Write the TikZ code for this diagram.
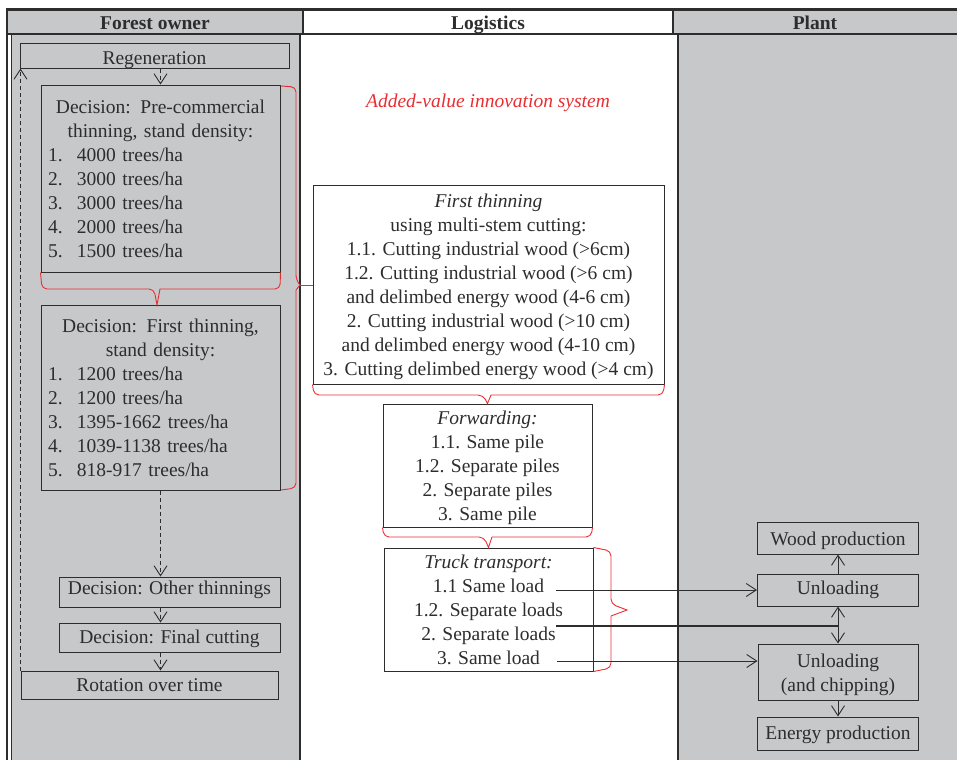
\documentclass[tikz,border=0pt]{standalone}
\usepackage{fontspec}
\setmainfont{Liberation Serif}
\usetikzlibrary{arrows.meta}
\definecolor{panel}{RGB}{199,200,202}
\definecolor{bred}{RGB}{232,45,50}
\definecolor{ink}{RGB}{45,45,45}
\tikzset{
  box/.style={draw=ink, line width=1pt, fill=panel, inner sep=0pt, align=center, text=ink, font=\fontsize{19.5}{24}\selectfont},
  wbox/.style={box, fill=white},
  tl/.style={text height=#1, text depth=4pt},
  flow/.style={->, draw=ink, line width=0.9pt},
  dflow/.style={flow, dash pattern=on 4pt off 3pt},
  brk/.style={draw=bred, line width=0.9pt, rounded corners=5pt},
  hdr/.style={inner sep=0pt, text=ink, text height=19pt, text depth=4pt, font=\fontsize{19.5}{24}\selectfont\bfseries},
  >={Straight Barb[length=10pt,width=13pt]}
}
\begin{document}
\begin{tikzpicture}[x=1pt,y=-1pt]
\useasboundingbox (0,0) rectangle (957,760);
% columns
\fill[panel] (11,34) rectangle (300,760);
\fill[panel] (678,34) rectangle (957,760);
\node[hdr, fill=panel, minimum width=296pt, minimum height=24pt] (fo) at (155,22) {Forest owner};
\node[hdr, minimum width=370pt, minimum height=24pt] (lg) at (488,22) {Logistics};
\node[hdr, fill=panel, minimum width=284pt, minimum height=24pt] (pl) at (815,22) {Plant};
\draw[ink, line width=3pt] (5.5,10) -- (957,10);
\draw[ink, line width=1.5pt] (7,34) -- (957,34);
\draw[ink, line width=2.5pt] (7,10) -- (7,760);
\draw[ink, line width=1pt] (11,34) -- (11,760);
\draw[ink, line width=2pt] (300,34) -- (300,760);
\draw[ink, line width=1.2pt] (303,10) -- (303,34);
\draw[ink, line width=1.2pt] (673,10) -- (673,34);
\draw[ink, line width=2pt] (678,34) -- (678,760);

% forest owner
\node[box, tl=20pt, minimum width=269pt, minimum height=24pt] (regen) at (154.5,56) {Regeneration};
\node[box, align=left, text width=225pt, inner xsep=7pt, minimum height=187pt] (pc) at (160.5,178.5)
  {\makebox[225pt][c]{Decision: Pre-commercial}\\ \makebox[225pt][c]{thinning, stand density:}\\
   \makebox[29pt][l]{1.}4000 trees/ha\\ \makebox[29pt][l]{2.}3000 trees/ha\\ \makebox[29pt][l]{3.}3000 trees/ha\\
   \makebox[29pt][l]{4.}2000 trees/ha\\ \makebox[29pt][l]{5.}1500 trees/ha};
\node[box, align=left, text width=225pt, inner xsep=7pt, minimum height=185pt] (ft) at (160.5,398)
  {\makebox[225pt][c]{Decision: First thinning,}\\ \makebox[225pt][c]{stand density:}\\
   \makebox[29pt][l]{1.}1200 trees/ha\\ \makebox[29pt][l]{2.}1200 trees/ha\\ \makebox[29pt][l]{3.}1395-1662 trees/ha\\
   \makebox[29pt][l]{4.}1039-1138 trees/ha\\ \makebox[29pt][l]{5.}818-917 trees/ha};
\node[box, tl=9pt, minimum width=221pt, minimum height=30pt] (oth) at (169.5,592) {Decision: Other thinnings};
\node[box, tl=15pt, minimum width=221pt, minimum height=29pt] (fc) at (169.5,637.5) {Decision: Final cutting};
\node[box, tl=16pt, minimum width=257pt, minimum height=28pt] (rot) at (149.5,685) {Rotation over time};

\draw[dflow] (regen.south -| ft.south) -- (pc.north -| ft.south);
\draw[dflow] (ft.south) -- (ft.south |- oth.north);
\draw[dflow] (oth.south -| ft.south) -- (fc.north -| ft.south);
\draw[dflow] (fc.south -| ft.south) -- (rot.north -| ft.south);
\draw[dflow] (rot.north west) -- (rot.north west |- regen.south);

% logistics
\node[text=bred, font=\fontsize{19.5}{24}\selectfont\itshape] (avis) at (488,102.5) {Added-value innovation system};
\node[wbox, minimum width=351pt, minimum height=199pt, text depth=0pt] (fth) at (488.5,284.5)
  {\textit{First thinning}\\ using multi-stem cutting:\\ 1.1. Cutting industrial wood (>6cm)\\
   1.2. Cutting industrial wood (>6 cm)\\ and delimbed energy wood (4-6 cm)\\
   2. Cutting industrial wood (>10 cm)\\ and delimbed energy wood (4-10 cm)\\
   3. Cutting delimbed energy wood (>4 cm)};
\node[wbox, minimum width=209pt, minimum height=123pt, text depth=0pt] (fw) at (487.5,465.5)
  {\textit{Forwarding:}\\ 1.1. Same pile\\ 1.2. Separate piles\\ 2. Separate piles\\ 3. Same pile};
\node[wbox, minimum width=209pt, minimum height=123pt] (tr) at (488.5,609.5)
  {\textit{Truck transport:}\\ 1.1 Same load\\ 1.2. Separate loads\\ 2. Separate loads\\ 3. Same load};

% red brackets
\draw[brk] (pc.south west) -- (42,289) -- (154,289) [sharp corners] -- (157,305) -- (160,289) [rounded corners=5pt] -- (280,289) -- (pc.south east);
\draw[brk] (281,86) -- (296,87) -- (296,280) [sharp corners] -- (300,285) -- (296,290) [rounded corners=5pt] -- (296,488) -- (281,490);
\draw[bred, line width=0.9pt] (300,285) -- (fth.west |- 0,285);
\draw[brk] (fth.south west) -- (314,395) -- (483,395) [sharp corners] -- (fw.north) -- (491,395) [rounded corners=5pt] -- (663,395) -- (fth.south east);
\draw[brk] (fw.south west) -- (384,537) -- (484,537) [sharp corners] -- (tr.north) -- (492,537) [rounded corners=5pt] -- (591,537) -- (fw.south east);
\draw[brk] (tr.north east) -- (611,551) -- (611,604) [sharp corners] -- (627,610) -- (611,616) [rounded corners=5pt] -- (611,668) -- (tr.south east);

% plant
\node[box, tl=18pt, minimum width=161pt, minimum height=32pt] (wp) at (838,538) {Wood production};
\node[box, tl=12pt, minimum width=161pt, minimum height=32pt] (unl) at (838,590) {Unloading};
\node[box, text height=40pt, text depth=2pt, minimum width=160pt, minimum height=56pt] (unc) at (838,672) {Unloading\\(and chipping)};
\node[box, tl=15pt, minimum width=161pt, minimum height=33pt] (ep) at (838,733.5) {Energy production};

\draw[flow] (unl) -- (wp);
\draw[flow, <->] (unl) -- (unc);
\draw[flow] (unc) -- (ep);

\coordinate (s11) at (556,590);
\coordinate (s12) at (556,626);
\coordinate (s3) at (557,661);
\draw[flow] (s11) -- (unl.west);
\draw[ink, line width=2.2pt] (s12) -- (s12 -| unl.south);
\draw[flow] (s3) -- (s3 -| unc.west);
\end{tikzpicture}
\end{document}
